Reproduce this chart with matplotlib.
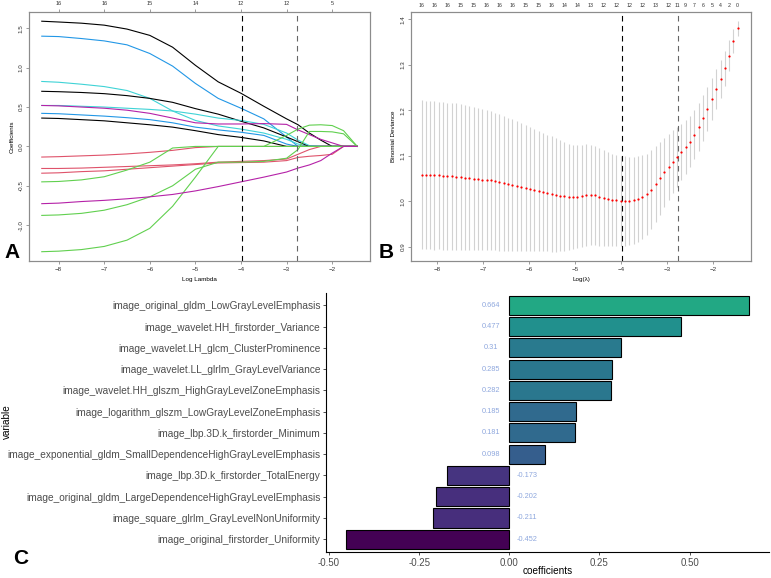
import numpy as np
import matplotlib
matplotlib.use("Agg")
import matplotlib.pyplot as plt
from matplotlib import cm

plt.rcParams['font.family'] = ['Liberation Sans', 'DejaVu Sans']

# ---------------- panel A: coefficient paths ----------------
lam_knots = [-8.37, -8, -7.5, -7, -6.5, -6, -5.5, -5, -4.5, -4, -3.5, -3, -2.75, -2.5, -2.25, -2, -1.75, -1.45]

black1 = [1.59, 1.58, 1.565, 1.54, 1.49, 1.41, 1.26, 1.03, 0.82, 0.675, 0.51, 0.35, 0.276, 0.17, 0.08, 0, 0, 0]
blue1 = [1.40, 1.395, 1.37, 1.34, 1.29, 1.18, 1.02, 0.80, 0.61, 0.485, 0.35, 0.12, 0, 0, 0, 0, 0, 0]
cyan1 = [0.825, 0.815, 0.79, 0.76, 0.71, 0.61, 0.45, 0.33, 0.26, 0.22, 0.17, 0.09, 0.03, 0, 0, 0, 0, 0]
black2 = [0.70, 0.695, 0.685, 0.67, 0.645, 0.61, 0.56, 0.48, 0.41, 0.32, 0.235, 0.12, 0.06, 0, 0, 0, 0, 0]
cyan2 = [0.52, 0.52, 0.51, 0.50, 0.485, 0.47, 0.45, 0.41, 0.36, 0.33, 0.28, 0.17, 0.08, 0.01, 0, 0, 0, 0]
magenta1 = [0.52, 0.515, 0.50, 0.485, 0.46, 0.42, 0.36, 0.30, 0.285, 0.285, 0.29, 0.28, 0.21, 0.15, 0.09, 0.045, 0, 0]
blue2 = [0.42, 0.415, 0.40, 0.385, 0.365, 0.34, 0.30, 0.245, 0.21, 0.18, 0.14, 0.03, 0, 0, 0, 0, 0, 0]
black3 = [0.36, 0.355, 0.34, 0.325, 0.30, 0.275, 0.245, 0.20, 0.15, 0.115, 0.07, 0, 0, 0, 0, 0, 0, 0]
red1 = [-0.135, -0.13, -0.12, -0.11, -0.095, -0.075, -0.05, -0.015, 0, 0, 0, 0, 0, 0, 0, 0, 0, 0]
red2 = [-0.28, -0.28, -0.275, -0.265, -0.255, -0.245, -0.235, -0.22, -0.20, -0.19, -0.18, -0.16, -0.10, -0.04, 0, 0, 0, 0]
red3 = [-0.34, -0.335, -0.32, -0.31, -0.29, -0.27, -0.25, -0.23, -0.21, -0.205, -0.20, -0.18, -0.14, -0.125, -0.115, -0.10, 0, 0]
greenA = [-1.337, -1.33, -1.31, -1.27, -1.19, -1.04, -0.76, -0.39, 0, 0, 0, 0.14, 0.22, 0.27, 0.275, 0.265, 0.20, 0]
greenB = [-0.876, -0.87, -0.85, -0.81, -0.74, -0.64, -0.50, -0.29, -0.20, -0.20, -0.19, -0.15, -0.04, 0.19, 0.19, 0.185, 0.16, 0]
greenC = [-0.45, -0.445, -0.425, -0.385, -0.30, -0.20, -0.02, 0, 0, 0, 0, 0, 0, 0, 0, 0, 0, 0]
magenta2 = [-0.727, -0.72, -0.70, -0.685, -0.665, -0.64, -0.61, -0.565, -0.51, -0.45, -0.39, -0.325, -0.275, -0.235, -0.18, -0.085, 0, 0]

paths = [black1, blue1, cyan1, black2, cyan2, magenta1, blue2, black3,
         red1, red2, red3, greenA, greenB, greenC, magenta2]
path_colors = ['black', '#2297E6', '#3FD3D6', 'black', '#3FD3D6', '#B522A8', '#2297E6', 'black',
               '#DF536B', '#DF536B', '#DF536B', '#61D04F', '#61D04F', '#61D04F', '#B522A8']

a_top_ticks = [-8, -7, -6, -5, -4, -3, -2]
a_top_labels = ['16', '16', '15', '14', '12', '12', '5']

lambda_min = -3.97
lambda_1se = -2.77

# ---------------- panel B: cross-validation curve ----------------
log_lam = [-8.33, -8.24, -8.14, -8.05, -7.95, -7.86, -7.77, -7.67, -7.58, -7.48,
           -7.39, -7.30, -7.20, -7.11, -7.01, -6.92, -6.83, -6.73, -6.64, -6.54,
           -6.45, -6.36, -6.26, -6.17, -6.07, -5.98, -5.89, -5.79, -5.70, -5.60,
           -5.51, -5.42, -5.32, -5.23, -5.13, -5.04, -4.95, -4.85, -4.76, -4.66,
           -4.57, -4.48, -4.38, -4.29, -4.19, -4.10, -4.01, -3.91, -3.82, -3.72,
           -3.63, -3.54, -3.44, -3.35, -3.25, -3.16, -3.07, -2.97, -2.88, -2.78,
           -2.69, -2.60, -2.50, -2.41, -2.31, -2.22, -2.13, -2.03, -1.94, -1.84,
           -1.75, -1.66, -1.56, -1.47]
cvm = [1.059, 1.058, 1.058, 1.057, 1.057, 1.056, 1.055, 1.055, 1.054, 1.053,
       1.052, 1.051, 1.050, 1.049, 1.048, 1.047, 1.046, 1.044, 1.042, 1.040,
       1.038, 1.036, 1.034, 1.032, 1.029, 1.027, 1.025, 1.022, 1.020, 1.018,
       1.016, 1.014, 1.012, 1.011, 1.010, 1.009, 1.010, 1.012, 1.014, 1.014,
       1.013, 1.010, 1.007, 1.005, 1.003, 1.002, 1.001, 1.001, 1.001, 1.002,
       1.005, 1.009, 1.016, 1.026, 1.038, 1.051, 1.064, 1.076, 1.087, 1.098,
       1.108, 1.119, 1.131, 1.146, 1.163, 1.183, 1.203, 1.224, 1.246, 1.268,
       1.292, 1.320, 1.353, 1.380]
cvsd = [0.163, 0.163, 0.163, 0.163, 0.162, 0.162, 0.162, 0.161, 0.161, 0.160,
        0.159, 0.158, 0.157, 0.156, 0.155, 0.154, 0.153, 0.151, 0.150, 0.148,
        0.146, 0.144, 0.142, 0.140, 0.138, 0.136, 0.134, 0.132, 0.130, 0.128,
        0.127, 0.125, 0.122, 0.119, 0.116, 0.114, 0.113, 0.112, 0.111, 0.110,
        0.108, 0.107, 0.105, 0.104, 0.102, 0.100, 0.099, 0.098, 0.097, 0.096,
        0.094, 0.092, 0.089, 0.086, 0.083, 0.080, 0.076, 0.073, 0.069, 0.066,
        0.062, 0.059, 0.056, 0.054, 0.052, 0.050, 0.048, 0.046, 0.044, 0.042,
        0.038, 0.034, 0.026, 0.017]
nz_idx = [0, 3, 6, 9, 12, 15, 18, 21, 24, 27, 30, 33, 36, 39, 42, 45, 48, 51, 54, 57,
          59, 61, 63, 65, 67, 69, 71, 73]
nz_labels = ['16', '16', '16', '15', '15', '16', '16', '16', '15', '15', '16', '14', '14', '13',
             '12', '12', '12', '12', '13', '12', '11', '9', '7', '6', '5', '4', '2', '0']

# ---------------- panel C: selected features ----------------
features = ['image_original_gldm_LowGrayLevelEmphasis',
            'image_wavelet.HH_firstorder_Variance',
            'image_wavelet.LH_glcm_ClusterProminence',
            'image_wavelet.LL_glrlm_GrayLevelVariance',
            'image_wavelet.HH_glszm_HighGrayLevelZoneEmphasis',
            'image_logarithm_glszm_LowGrayLevelZoneEmphasis',
            'image_lbp.3D.k_firstorder_Minimum',
            'image_exponential_gldm_SmallDependenceHighGrayLevelEmphasis',
            'image_lbp.3D.k_firstorder_TotalEnergy',
            'image_original_gldm_LargeDependenceHighGrayLevelEmphasis',
            'image_square_glrlm_GrayLevelNonUniformity',
            'image_original_firstorder_Uniformity']
coefs = [0.664, 0.477, 0.31, 0.285, 0.282, 0.185, 0.181, 0.098, -0.173, -0.202, -0.211, -0.452]
c_ticks = [-0.50, -0.25, 0.00, 0.25, 0.50]

W, H = 771, 578
fig = plt.figure(figsize=(W / 100, H / 100), dpi=100)


def r_style(ax):
    for s in ax.spines.values():
        s.set_color('#8c8c8c')
        s.set_linewidth(0.8)
    ax.tick_params(direction='out', length=2.5, width=0.6, color='#8c8c8c',
                   labelsize=4.5, labelcolor='#333333', pad=1.5)


# ---- A
axA = fig.add_axes([29 / W, 1 - 261 / H, 341 / W, 249 / H])
for p, c in zip(paths, path_colors):
    axA.plot(lam_knots, p, color=c, lw=0.8)
axA.axvline(lambda_min, color='black', ls=(0, (5, 4)), lw=0.8)
axA.axvline(lambda_1se, color='#666666', ls=(0, (5, 4)), lw=0.8)
axA.set_xlim(-8.65, -1.17)
axA.set_ylim(-1.455, 1.707)
axA.set_xticks([-8, -7, -6, -5, -4, -3, -2])
axA.set_yticks([-1.0, -0.5, 0.0, 0.5, 1.0, 1.5])
axA.set_yticklabels(['-1.0', '-0.5', '0.0', '0.5', '1.0', '1.5'], rotation=90, va='center')
r_style(axA)
axA.set_xlabel('Log Lambda', fontsize=4.5, labelpad=4)
axA.set_ylabel('Coefficients', fontsize=4.5, labelpad=3)
topA = axA.twiny()
topA.set_xlim(axA.get_xlim())
topA.set_xticks(a_top_ticks)
topA.set_xticklabels(a_top_labels)
r_style(topA)
topA.tick_params(labelsize=4)

# ---- B
axB = fig.add_axes([411 / W, 1 - 261 / H, 340 / W, 249 / H])
axB.errorbar(log_lam, cvm, yerr=cvsd, fmt='o', color='red', ms=1.6, mew=0,
             ecolor='#d2d2d2', elinewidth=0.8, capsize=2.8, capthick=0.8, zorder=2)
axB.axvline(lambda_min, color='black', ls=(0, (5, 4)), lw=0.8)
axB.axvline(lambda_1se, color='#666666', ls=(0, (5, 4)), lw=0.8)
axB.set_xlim(-8.56, -1.18)
axB.set_ylim(0.869, 1.416)
axB.set_xticks([-8, -7, -6, -5, -4, -3, -2])
axB.set_yticks([0.9, 1.0, 1.1, 1.2, 1.3, 1.4])
axB.set_yticklabels(['0.9', '1.0', '1.1', '1.2', '1.3', '1.4'], rotation=90, va='center')
r_style(axB)
axB.set_xlabel('Log(\u03bb)', fontsize=4.5, labelpad=4)
axB.set_ylabel('Binomial Deviance', fontsize=4.5, labelpad=3)
topB = axB.twiny()
topB.set_xlim(axB.get_xlim())
topB.set_xticks([log_lam[i] for i in nz_idx])
topB.set_xticklabels(nz_labels)
r_style(topB)
topB.tick_params(length=0, labelsize=3.8, pad=3)

# ---- C
axC = fig.add_axes([326 / W, 1 - 552 / H, 443 / W, 259.5 / H])
ypos = np.arange(len(features))[::-1] + 1
norm = plt.Normalize(min(coefs), max(coefs))
bar_colors = [cm.viridis(0.6 * norm(v)) for v in coefs]
axC.barh(ypos, coefs, height=0.9, color=bar_colors, edgecolor='black', linewidth=0.8)
for y, v in zip(ypos, coefs):
    axC.text(-0.05 if v > 0 else 0.05, y, f'{v:g}', ha='center', va='center',
             fontsize=5.3, color='#8fa8de')
axC.set_xlim(-0.508, 0.720)
axC.set_ylim(0.4, 12.6)
axC.set_yticks(ypos)
axC.set_yticklabels(features)
axC.set_xticks(c_ticks)
axC.set_xticklabels(['-0.50', '-0.25', '0.00', '0.25', '0.50'])
for s in ['top', 'right']:
    axC.spines[s].set_visible(False)
for s in ['left', 'bottom']:
    axC.spines[s].set_color('black')
    axC.spines[s].set_linewidth(0.8)
axC.tick_params(direction='out', length=2.5, width=0.6, color='#333333',
                labelsize=7.0, labelcolor='#4d4d4d', pad=1.5)
axC.tick_params(axis='y', labelsize=7.25)
fig.text(547.5 / W, 1 - 571 / H, 'coefficients', fontsize=7.2, ha='center', va='center')
fig.text(7 / W, 1 - 422 / H, 'variable', fontsize=7.2, rotation=90, ha='center', va='center')

# panel letters
fig.text(12 / W, 1 - 253 / H, 'A', fontsize=15, fontweight='bold', ha='center', va='center')
fig.text(386 / W, 1 - 253 / H, 'B', fontsize=15, fontweight='bold', ha='center', va='center')
fig.text(21 / W, 1 - 559 / H, 'C', fontsize=15, fontweight='bold', ha='center', va='center')

fig.savefig('out.png', dpi=100)
